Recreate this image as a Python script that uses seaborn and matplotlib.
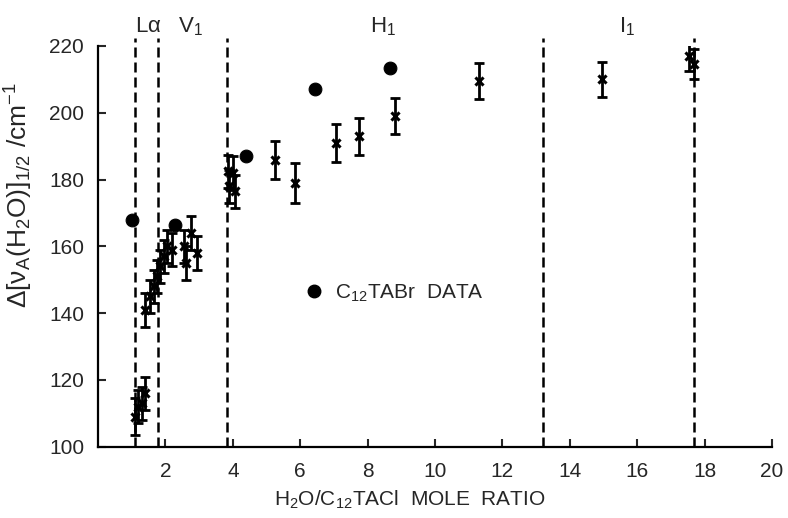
import matplotlib
matplotlib.use("Agg")
import matplotlib.pyplot as plt
import seaborn as sns
from matplotlib.lines import Line2D

# H2O/C12TACl mole ratio against water-band half-width (with uncertainty)
ratio = [1.10, 1.20, 1.30, 1.40,
         1.40, 1.55, 1.65, 1.75, 1.85, 1.95, 2.05, 2.20, 2.55, 2.60, 2.75, 2.95,
         3.85, 3.90, 4.00, 4.05,
         5.25, 5.85, 7.05, 7.75, 8.80, 11.30, 14.95, 17.55, 17.70]
width = [109.0, 112.0, 113.0, 116.0,
         141.0, 145.0, 148.0, 151.0, 154.0, 157.0, 160.0, 159.0, 160.0, 155.0, 164.0, 158.0,
         182.5, 178.0, 182.0, 176.5,
         186.0, 179.0, 191.0, 193.0, 199.0, 209.5, 210.0, 217.0, 214.5]
width_err = [5.5, 5.0, 5.0, 5.0,
             5.0, 5.0, 5.0, 5.0, 5.0, 5.0, 5.0, 5.0, 5.0, 5.0, 5.0, 5.0,
             5.0, 5.0, 5.0, 5.0,
             5.7, 6.0, 5.6, 5.5, 5.5, 5.3, 5.3, 4.5, 4.5]

# C12TABr comparison data
br_ratio = [1.00, 2.27, 4.40, 6.45, 8.65]
br_width = [168.0, 166.5, 187.0, 207.0, 213.5]

# phase boundaries and phase names
phase_bounds = [1.10, 1.78, 3.82, 13.20, 17.70]
phase_names = ["L$\\alpha$", "V$_1$", "H$_1$", "I$_1$"]
phase_name_x = [1.50, 2.75, 8.45, 15.70]

x_ticks = [2, 4, 6, 8, 10, 12, 14, 16, 18, 20]
y_ticks = [100, 120, 140, 160, 180, 200, 220]

sns.set_style("ticks")
plt.rcParams["font.family"] = ["Liberation Sans", "DejaVu Sans"]
plt.rcParams["mathtext.default"] = "regular"

fig = plt.figure(figsize=(7.88, 5.18), dpi=100)
ax = fig.add_axes([0.1244, 0.1376, 0.8553, 0.7736])

# phase boundaries as dashed verticals running slightly above the frame
for b in phase_bounds:
    ax.plot([b, b], [100, 222.5], color="k", lw=1.8, ls=(0, (4, 2)),
            clip_on=False, zorder=1)

for name, xp in zip(phase_names, phase_name_x):
    ax.text(xp, 225.8, name, ha="center", va="center", fontsize=16,
            clip_on=False)

ax.errorbar(ratio, width, yerr=width_err, fmt="none", ecolor="k",
            elinewidth=2, capsize=3.5, capthick=2, zorder=2)
sns.scatterplot(x=ratio, y=width, marker="x", s=34, color="k",
                linewidth=2.2, ax=ax, zorder=3)
sns.scatterplot(x=br_ratio, y=br_width, marker="o", s=85, color="k",
                edgecolor="k", ax=ax, zorder=3)

handle = Line2D([], [], marker="o", ls="none", color="k", markersize=9)
ax.legend(handles=[handle], labels=["C$_{12}$TABr  DATA"], frameon=False,
          loc="center left", bbox_to_anchor=(6.1, 146),
          bbox_transform=ax.transData, handlelength=1.0, handletextpad=0.5,
          borderpad=0, borderaxespad=0, fontsize=15)

ax.set_xlim(0, 20)
ax.set_ylim(100, 220)
ax.set_xticks(x_ticks)
ax.set_yticks(y_ticks)
ax.tick_params(direction="in", length=6, width=1.5, labelsize=15)
ax.tick_params(axis="y", pad=10)
ax.tick_params(axis="x", pad=11)
sns.despine(ax=ax)
for s in ("left", "bottom"):
    ax.spines[s].set_linewidth(1.6)
    ax.spines[s].set_color("k")

ax.set_xlabel("H$_2$O/C$_{12}$TACl  MOLE  RATIO", fontsize=15)
ax.xaxis.set_label_coords(0.462, -0.105)
ax.set_ylabel("Δ[ν$_A$(H$_2$O)]$_{1/2}$ /cm$^{-1}$", fontsize=19)
ax.yaxis.set_label_coords(-0.093, 0.627)

fig.savefig("out.png", dpi=100)
